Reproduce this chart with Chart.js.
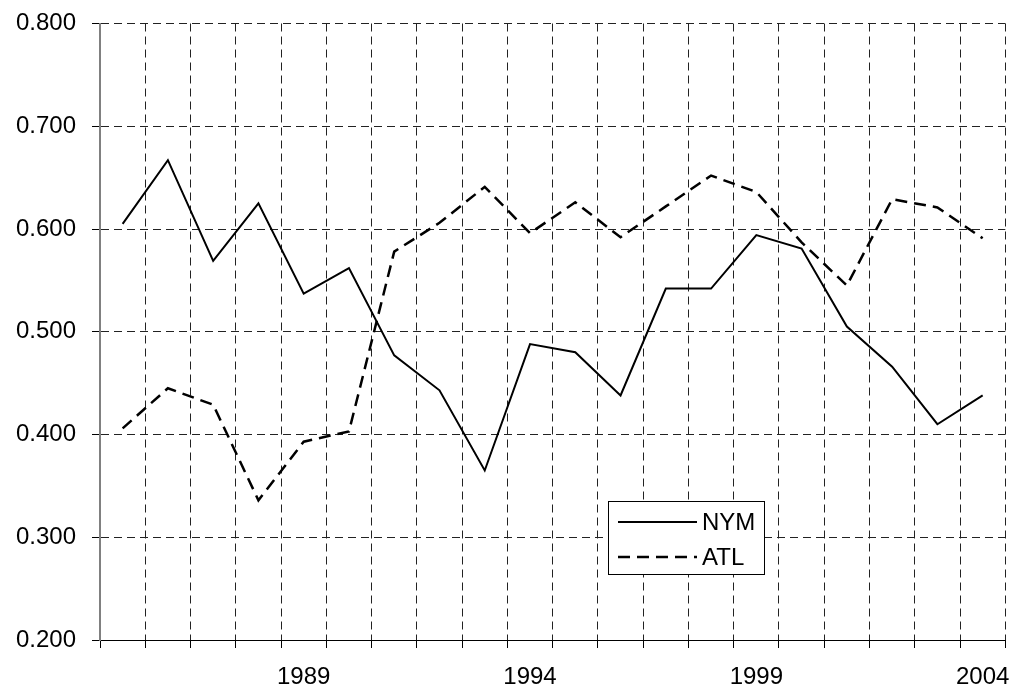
<!DOCTYPE html>
<html>
<head>
<meta charset="utf-8">
<script src="https://cdn.jsdelivr.net/npm/chart.js@4.4.1/dist/chart.umd.min.js"></script>
<style>
  body { margin: 0; background: #fff; }
  #wrap { width: 1015px; height: 691px; }
</style>
</head>
<body>
<div id="wrap"><canvas id="chart" width="1015" height="691"></canvas></div>
<script>
// Dados
const years = [1985, 1986, 1987, 1988, 1989, 1990, 1991, 1992, 1993, 1994,
               1995, 1996, 1997, 1998, 1999, 2000, 2001, 2002, 2003, 2004];
const labeledYears = [1989, 1994, 1999, 2004];
const nym = [0.605, 0.667, 0.569, 0.625, 0.537, 0.562, 0.477, 0.443, 0.365, 0.488,
             0.480, 0.438, 0.542, 0.542, 0.594, 0.581, 0.505, 0.466, 0.410, 0.438];
const atl = [0.406, 0.445, 0.429, 0.336, 0.393, 0.403, 0.578, 0.606, 0.641, 0.596,
             0.626, 0.592, 0.622, 0.652, 0.636, 0.587, 0.545, 0.629, 0.621, 0.591];
const yTicks = [0.2, 0.3, 0.4, 0.5, 0.6, 0.7, 0.8];

const FONT = '"Liberation Sans", Arial, sans-serif';
Chart.defaults.font.family = FONT;
Chart.defaults.color = '#000';

// Legenda desenhada dentro da área do gráfico
const boxLegend = {
  id: 'boxLegend',
  afterDatasetsDraw(chart, args, opts) {
    const ctx = chart.ctx;
    ctx.save();
    ctx.fillStyle = '#fff';
    ctx.fillRect(opts.x, opts.y, opts.w, opts.h);
    ctx.strokeStyle = '#000';
    ctx.lineWidth = 1;
    ctx.strokeRect(opts.x + 0.5, opts.y + 0.5, opts.w, opts.h);
    ctx.font = '24px ' + FONT;
    ctx.textBaseline = 'middle';
    ctx.fillStyle = '#000';
    chart.data.datasets.forEach((ds, i) => {
      const y = opts.y + opts.rowTop + i * opts.rowGap;
      ctx.beginPath();
      ctx.setLineDash(ds.borderDash || []);
      ctx.lineWidth = ds.borderWidth;
      ctx.strokeStyle = ds.borderColor;
      ctx.moveTo(opts.x + 10, y);
      ctx.lineTo(opts.x + 89, y);
      ctx.stroke();
      ctx.setLineDash([]);
      ctx.fillText(ds.label, opts.x + 94, y + 1);
    });
    ctx.restore();
  }
};

new Chart(document.getElementById('chart'), {
  type: 'line',
  data: {
    labels: years,
    datasets: [{
      label: 'NYM',
      data: nym,
      borderColor: '#000',
      borderWidth: 2,
      pointRadius: 0,
      tension: 0
    }, {
      label: 'ATL',
      data: atl,
      borderColor: '#000',
      borderWidth: 2.5,
      borderDash: [12, 7],
      pointRadius: 0,
      tension: 0
    }]
  },
  options: {
    responsive: false,
    animation: false,
    layout: { padding: { top: 23.5, right: 9.7, left: 0, bottom: 0 } },
    plugins: {
      legend: { display: false },
      tooltip: { enabled: false },
      boxLegend: { x: 608, y: 501, w: 156, h: 73, rowTop: 21, rowGap: 35 }
    },
    scales: {
      x: {
        offset: true,
        grid: { offset: true, color: '#222', lineWidth: 1, tickLength: 8, tickColor: '#000' },
        border: { color: '#000', width: 1, dash: [8, 5] },
        ticks: {
          autoSkip: false,
          maxRotation: 0,
          padding: 15,
          font: { size: 24 },
          callback: function (v, i) {
            const y = years[i];
            return labeledYears.includes(y) ? String(y) : '';
          }
        },
        afterFit: s => { s.height = 51; s.paddingLeft = 0; s.paddingRight = 0; }
      },
      y: {
        min: 0.2,
        max: 0.8,
        afterBuildTicks: s => { s.ticks = yTicks.map(v => ({ value: v })); },
        grid: { color: '#222', lineWidth: 1, tickLength: 8, tickColor: '#000' },
        border: { color: '#808080', width: 2, dash: [8, 5] },
        ticks: {
          padding: 16,
          font: { size: 24 },
          callback: v => v.toFixed(3)
        },
        afterFit: s => { s.width = 100; s.paddingTop = 0; s.paddingBottom = 0; }
      }
    }
  },
  plugins: [boxLegend]
});
</script>
</body>
</html>
